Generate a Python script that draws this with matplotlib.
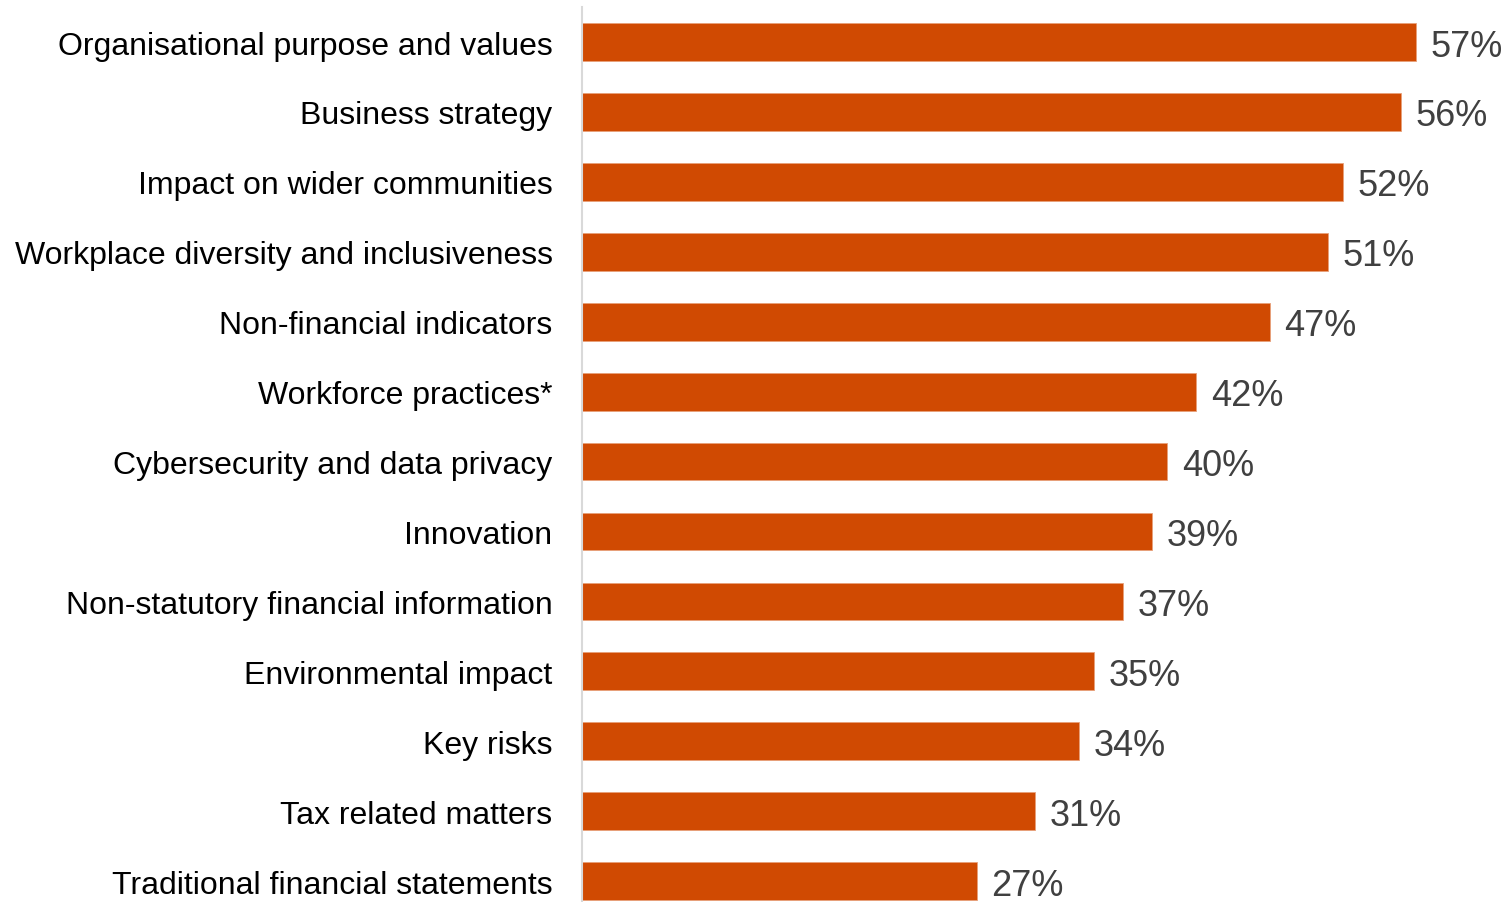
import matplotlib
matplotlib.use("Agg")
import matplotlib.pyplot as plt

categories = [
    "Organisational purpose and values",
    "Business strategy",
    "Impact on wider communities",
    "Workplace diversity and inclusiveness",
    "Non-financial indicators",
    "Workforce practices*",
    "Cybersecurity and data privacy",
    "Innovation",
    "Non-statutory financial information",
    "Environmental impact",
    "Key risks",
    "Tax related matters",
    "Traditional financial statements",
]
values = [57, 56, 52, 51, 47, 42, 40, 39, 37, 35, 34, 31, 27]
value_labels = [f"{v}%" for v in values]

plt.rcParams["font.family"] = ["Liberation Sans", "DejaVu Sans"]

fig = plt.figure(figsize=(15.11, 9.03), dpi=100)
ax = fig.add_axes([0.385, 0.0, 0.615, 0.991])

bar_color = "#D04A02"
pos = list(range(len(categories)))
ax.barh(pos, values, height=0.54, color=bar_color, edgecolor="#E8A07A", linewidth=0.6)

for p, v, lab in zip(pos, values, value_labels):
    ax.text(v + 1.0, p, lab, va="center_baseline", ha="left", fontsize=26, color="#404040")

ax.set_yticks(pos)
ax.set_yticklabels(categories, fontsize=23, color="black")
ax.tick_params(axis="y", length=0, pad=21)
ax.set_xticks([])
ax.set_xlim(0, 63.5)
ax.set_ylim(12.3, -0.5)

for s in ["top", "right", "bottom"]:
    ax.spines[s].set_visible(False)
ax.spines["left"].set_color("#D9D9D9")
ax.spines["left"].set_linewidth(1.5)

fig.savefig("out.png", dpi=100, facecolor="white")
